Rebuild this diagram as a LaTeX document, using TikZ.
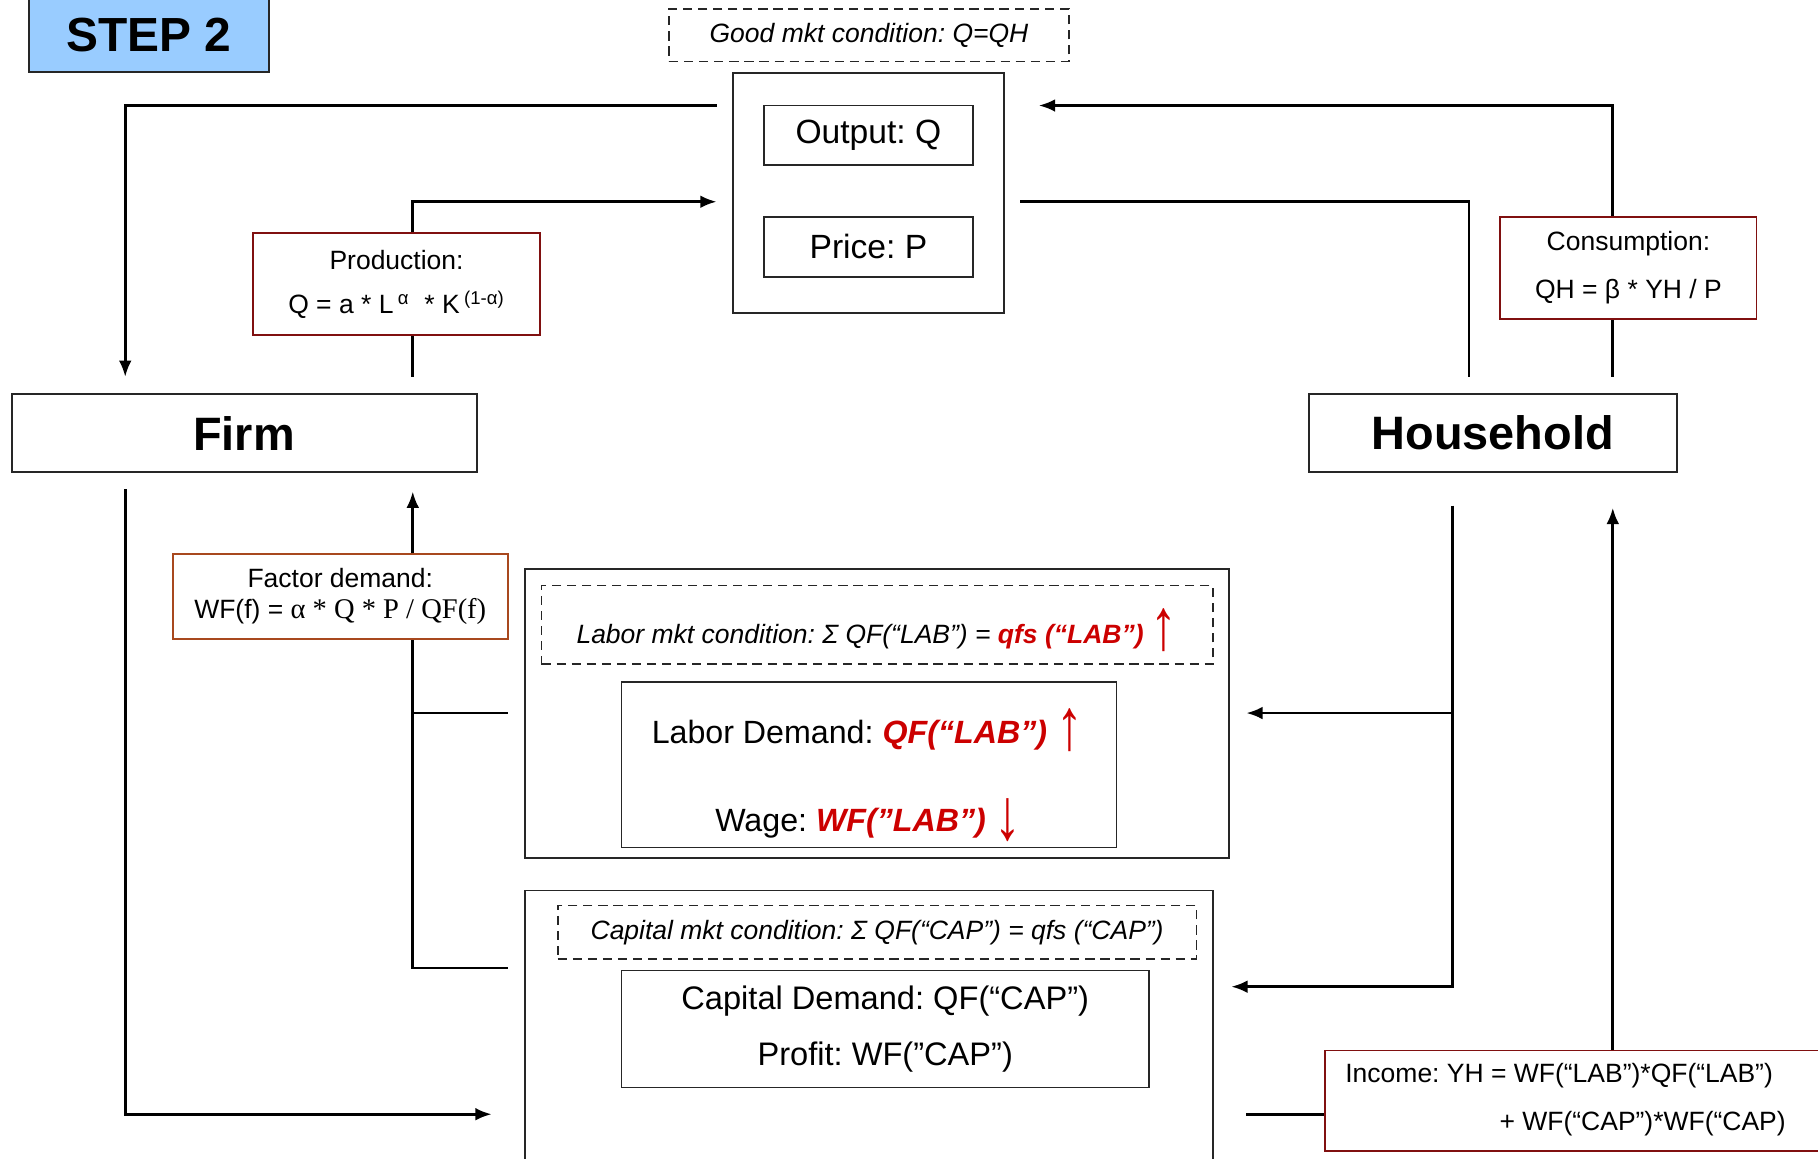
\documentclass[tikz,border=0pt]{standalone}
\usepackage{fontspec}
\usepackage{graphicx}
\setmainfont{Liberation Sans}
\newfontfamily\serifpart{Liberation Serif}
\usetikzlibrary{arrows.meta}
\definecolor{stepblue}{RGB}{153,204,255}
\definecolor{eqred}{RGB}{128,16,16}
\definecolor{eqbrown}{RGB}{168,72,30}
\definecolor{upred}{RGB}{204,0,0}
\newcommand{\smalltxt}{\fontsize{13}{15.6}\selectfont}
\newcommand{\midtxt}{\fontsize{16.5}{19.8}\selectfont}
\newcommand{\demtxt}{\fontsize{15.8}{19}\selectfont}
\newcommand{\bigtxt}{\fontsize{23}{27.6}\selectfont\bfseries}
\newcommand{\redup}{{\color{upred}\fontsize{21}{21}\selectfont\upshape\mdseries\smash{\raisebox{-0.25ex}{\scalebox{1.25}[1.7]{↑}}}}}
\newcommand{\reddown}{{\color{upred}\fontsize{21}{21}\selectfont\upshape\mdseries\smash{\raisebox{-0.35ex}{\scalebox{1.25}[1.7]{↓}}}}}
\begin{document}
\frenchspacing
\begin{tikzpicture}[x=0.2mm,y=-0.2mm,
	box/.style={draw=black!85, line width=0.3mm, inner sep=0pt},
	eqbox/.style={box, draw=eqred, align=center},
	condbox/.style={draw=black!85, line width=0.3mm, dash pattern=on 1.6mm off 1mm, inner sep=0pt},
	txt/.style={inner sep=0pt},
	flow/.style={line width=0.45mm},
	arr/.style={flow, -{Latex[length=2.8mm,width=2.2mm]}}]
	\useasboundingbox (0,0) rectangle (1568,999);
	% goods market
	\node[box, fill=stepblue, minimum width=41.4mm, minimum height=12.8mm, font=\fontsize{23.5}{28}\selectfont\bfseries] (step) at (128.5,30) {STEP 2};
	\node[condbox, minimum width=69mm, minimum height=9mm, font=\smalltxt\itshape] (goodcond) at (749.5,30.5) {Good mkt condition: Q=QH};
	\node[box, line width=0.35mm, minimum width=46.8mm, minimum height=41.4mm] (goods) at (749,166.5) {};
	\node[box, minimum width=36mm, minimum height=10.2mm, font=\midtxt] (output) at (749,116.5) {Output: Q};
	\node[box, minimum width=36mm, minimum height=10.4mm, font=\midtxt] (price) at (749,213) {Price: P};
	% agents
	\node[box, line width=0.35mm, minimum width=80.2mm, minimum height=13.4mm, font=\bigtxt] (firm) at (210.5,373.5) {Firm};
	\node[box, line width=0.35mm, minimum width=63.4mm, minimum height=13.4mm, font=\bigtxt] (household) at (1287.5,373.5) {Household};
	\node[eqbox, minimum width=49.6mm, minimum height=17.6mm, font=\fontsize{13}{21.6}\selectfont] (prod) at (342,245) {Production:\\Q = a * L\,\textsuperscript{α}\ \ * K\,\textsuperscript{(1-α)}};
	\node[eqbox, minimum width=44.2mm, minimum height=17.6mm, font=\fontsize{13}{23.3}\selectfont] (cons) at (1404.5,231) {Consumption:\\QH = β * YH / P};
	\node[eqbox, draw=eqbrown, minimum width=57.8mm, minimum height=14.6mm, font=\fontsize{13}{15.4}\selectfont] (factor) at (293.5,514.5) {Factor demand:\\WF(f) = {\serifpart\fontsize{14}{15.4}\selectfont α * Q * P / QF(f)}};
	% labour market
	\node[box, minimum width=121.4mm, minimum height=49.8mm] (labmkt) at (756.5,615.5) {};
	\node[condbox, minimum width=115.8mm, minimum height=13.6mm] (labcond) at (756.5,539) {};
	\node[txt, font=\smalltxt\itshape] (labcondtxt) at (756.5,549) {Labor mkt condition: Σ QF(“LAB”) = {\color{upred}\bfseries qfs (“LAB”)} \redup};
	\node[box, minimum width=85.4mm, minimum height=28.6mm] (labdem) at (749.5,659.5) {};
	\node[txt, font=\demtxt] (labq) at (748,634) {Labor Demand: {\color{upred}\bfseries\itshape QF(“LAB”)} \redup};
	\node[txt, font=\demtxt] (wage) at (749,710) {Wage: {\color{upred}\bfseries\itshape WF(”LAB”)} \reddown};
	% capital market
	\node[box, minimum width=118.6mm, minimum height=48.4mm] (capmkt) at (749.5,889) {};
	\node[condbox, minimum width=110.2mm, minimum height=9.2mm, font=\smalltxt\itshape] (capcond) at (756.5,804) {Capital mkt condition: Σ QF(“CAP”) = qfs (“CAP”)};
	\node[box, minimum width=91mm, minimum height=20.2mm, align=center, font=\fontsize{16}{27.9}\selectfont] (capdem) at (763.5,887.5) {Capital Demand: QF(“CAP”)\\Profit: WF(”CAP”)};
	% income
	\node[eqbox, minimum width=89.4mm, minimum height=17.4mm] (income) at (1366.5,949.5) {};
	\node[txt, font=\smalltxt, anchor=west] (inc1) at (1160,928) {Income: YH = WF(“LAB”)*QF(“LAB”)};
	\node[txt, font=\smalltxt, anchor=west] (inc2) at (1293,969) {+ WF(“CAP”)*WF(“CAP)};
	% loose ends of the flows
	\coordinate (gL1) at (618,91);
	\coordinate (gL2) at (618,174);
	\coordinate (gR1) at (896,91);
	\coordinate (gR2) at (880,174);
	\coordinate (fTopA) at (108,325);
	\coordinate (fTopB) at (356,325);
	\coordinate (hTopA) at (1267,325);
	\coordinate (hTopB) at (1391,325);
	\coordinate (fBotA) at (108,422);
	\coordinate (fBotB) at (356,424);
	\coordinate (hBotA) at (1253,436);
	\coordinate (hBotB) at (1391,438);
	\coordinate (lL) at (438,615);
	\coordinate (lR) at (1075,615);
	\coordinate (cL) at (438,835);
	\coordinate (cR) at (1062,851);
	\coordinate (cIn) at (424,961);
	\coordinate (cOut) at (1075,961);
	% flows
	\draw[arr] (gL1) -| (fTopA);
	\draw[flow] (fTopB) -- (fTopB |- prod.south);
	\draw[arr] (fTopB |- prod.north) |- (gL2);
	\draw[flow] (gR2) -| (hTopA);
	\draw[flow] (hTopB) -- (hTopB |- cons.south);
	\draw[arr] (hTopB |- cons.north) |- (gR1);
	\draw[arr] (fBotA) |- (cIn);
	\draw[flow] (cL) -| (fBotB |- factor.south);
	\draw[flow] (lL) -- (lL -| fBotB);
	\draw[arr] (fBotB |- factor.north) -- (fBotB);
	\draw[arr] (hBotA) |- (cR);
	\draw[arr] (hBotA |- lR) -- (lR);
	\draw[flow] (cOut) -- (income.west |- cOut);
	\draw[arr] (hBotB |- income.north) -- (hBotB);
\end{tikzpicture}
\end{document}
